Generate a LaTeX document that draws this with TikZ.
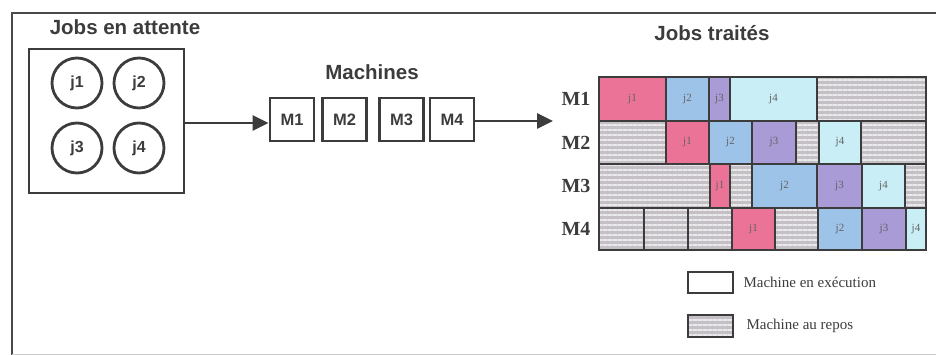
\documentclass[tikz,border=0pt]{standalone}
\usepackage{fontspec}
\setmainfont{Liberation Serif}
\newfontfamily\hv{Liberation Sans}
\usetikzlibrary{arrows.meta,patterns.meta}
\definecolor{frame}{HTML}{4A4A4A}
\definecolor{ink}{HTML}{3C3C3C}
\definecolor{cj1}{HTML}{EC7398}
\definecolor{cj2}{HTML}{9DC3E8}
\definecolor{cj3}{HTML}{A89BD6}
\definecolor{cj4}{HTML}{C9EEF6}
\definecolor{idle}{HTML}{C4C0C5}
\tikzset{
  title/.style={font=\hv\bfseries\fontsize{20.5}{23}\selectfont, text=ink},
  jobcirc/.style={circle, draw=ink, line width=2.8pt, minimum size=50pt, inner sep=0pt, font=\hv\bfseries\fontsize{16}{19}\selectfont, text=ink},
  machbox/.style={draw=ink, line width=2.8pt, minimum width=44pt, minimum height=43pt, inner sep=0pt, font=\hv\bfseries\fontsize{16.5}{19}\selectfont, text=ink},
  bigarrow/.style={draw=ink, line width=2.6pt, -{Triangle[length=16pt,width=15pt]}},
  cell/.style={draw=ink, line width=1.5pt},
  idlecell/.style={cell, preaction={fill=idle}, preaction={pattern={Lines[angle=0,distance=5pt,line width=1.6pt]}, pattern color=white!65!idle}},
  rowlab/.style={font=\bfseries\fontsize{20}{22}\selectfont, text=ink},
  clab/.style={font=\fontsize{11}{12}\selectfont, text=ink!80},
  legtext/.style={font=\fontsize{15}{17}\selectfont, text=ink, anchor=west},
}
\begin{document}
\begin{tikzpicture}[x=1pt,y=-1pt]
\useasboundingbox (0,0) rectangle (936,355);
% outer frame (top and left visible)
\draw[frame, line width=2.6pt] (12,357) -- (12,13) -- (938,13);
\draw[gray!40, line width=1pt] (12,354) -- (938,354);

% waiting jobs
\node[title] (tw) at (125,27) {Jobs en attente};
\node[draw=ink, line width=2.8pt, minimum width=155pt, minimum height=144pt, inner sep=0pt] (wait) at (106.5,121) {};
\node[jobcirc] (j1) at (77,83) {j1};
\node[jobcirc] (j2) at (139,83) {j2};
\node[jobcirc] (j3) at (77,148) {j3};
\node[jobcirc] (j4) at (139,148) {j4};

% machines
\node[title] (tm) at (372,72) {Machines};
\node[machbox] (m1) at (292,119.5) {M1};
\node[machbox] (m2) at (344.5,119.5) {M2};
\node[machbox] (m3) at (401.5,119.5) {M3};
\node[machbox] (m4) at (452,119.5) {M4};
\coordinate (a2) at (553,121);
\draw[bigarrow] (wait.east |- 0,123) -- (m1.west |- 0,123);
\draw[bigarrow] (m4.east |- a2) -- (a2);

% processed jobs
\node[title] (tt) at (712,33) {Jobs traités};
\node[rowlab] (r1) at (576,99) {M1};
\node[rowlab] (r2) at (576,142.5) {M2};
\node[rowlab] (r3) at (576,186) {M3};
\node[rowlab] (r4) at (576,229) {M4};

% M1 row
\draw[cell, fill=cj1] (599,77) rectangle node[clab]{j1} (666,121);
\draw[cell, fill=cj2] (666,77) rectangle node[clab]{j2} (709,121);
\draw[cell, fill=cj3] (709,77) rectangle node[clab]{j3} (730,121);
\draw[cell, fill=cj4] (730,77) rectangle node[clab]{j4} (817,121);
\draw[idlecell] (817,77) rectangle (926,121);
% M2 row
\draw[idlecell] (599,121) rectangle (666,164);
\draw[cell, fill=cj1] (666,121) rectangle node[clab]{j1} (709,164);
\draw[cell, fill=cj2] (709,121) rectangle node[clab]{j2} (752,164);
\draw[cell, fill=cj3] (752,121) rectangle node[clab]{j3} (796,164);
\draw[idlecell] (796,121) rectangle (819,164);
\draw[cell, fill=cj4] (819,121) rectangle node[clab]{j4} (861,164);
\draw[idlecell] (861,121) rectangle (926,164);
% M3 row
\draw[idlecell] (599,164) rectangle (710,208);
\draw[cell, fill=cj1] (710,164) rectangle node[clab]{j1} (730,208);
\draw[idlecell] (730,164) rectangle (752,208);
\draw[cell, fill=cj2] (752,164) rectangle node[clab]{j2} (817,208);
\draw[cell, fill=cj3] (817,164) rectangle node[clab]{j3} (862,208);
\draw[cell, fill=cj4] (862,164) rectangle node[clab]{j4} (905,208);
\draw[idlecell] (905,164) rectangle (926,208);
% M4 row
\draw[idlecell] (599,208) rectangle (644,250);
\draw[idlecell] (644,208) rectangle (688,250);
\draw[idlecell] (688,208) rectangle (732,250);
\draw[cell, fill=cj1] (732,208) rectangle node[clab]{j1} (775,250);
\draw[idlecell] (775,208) rectangle (818,250);
\draw[cell, fill=cj2] (818,208) rectangle node[clab]{j2} (862,250);
\draw[cell, fill=cj3] (862,208) rectangle node[clab]{j3} (906,250);
\draw[cell, fill=cj4] (906,208) rectangle node[clab]{j4} (926,250);

% legend
\node[cell, fill=white, minimum width=45pt, minimum height=21pt, inner sep=0pt] (lrun) at (710.5,282.5) {};
\node[legtext] (trun) at (740,282.5) {Machine en exécution};
\node[idlecell, minimum width=45pt, minimum height=22pt, inner sep=0pt] (lidle) at (710.5,326) {};
\node[legtext] (tidle) at (743,326) {Machine au repos};
\end{tikzpicture}
\end{document}
